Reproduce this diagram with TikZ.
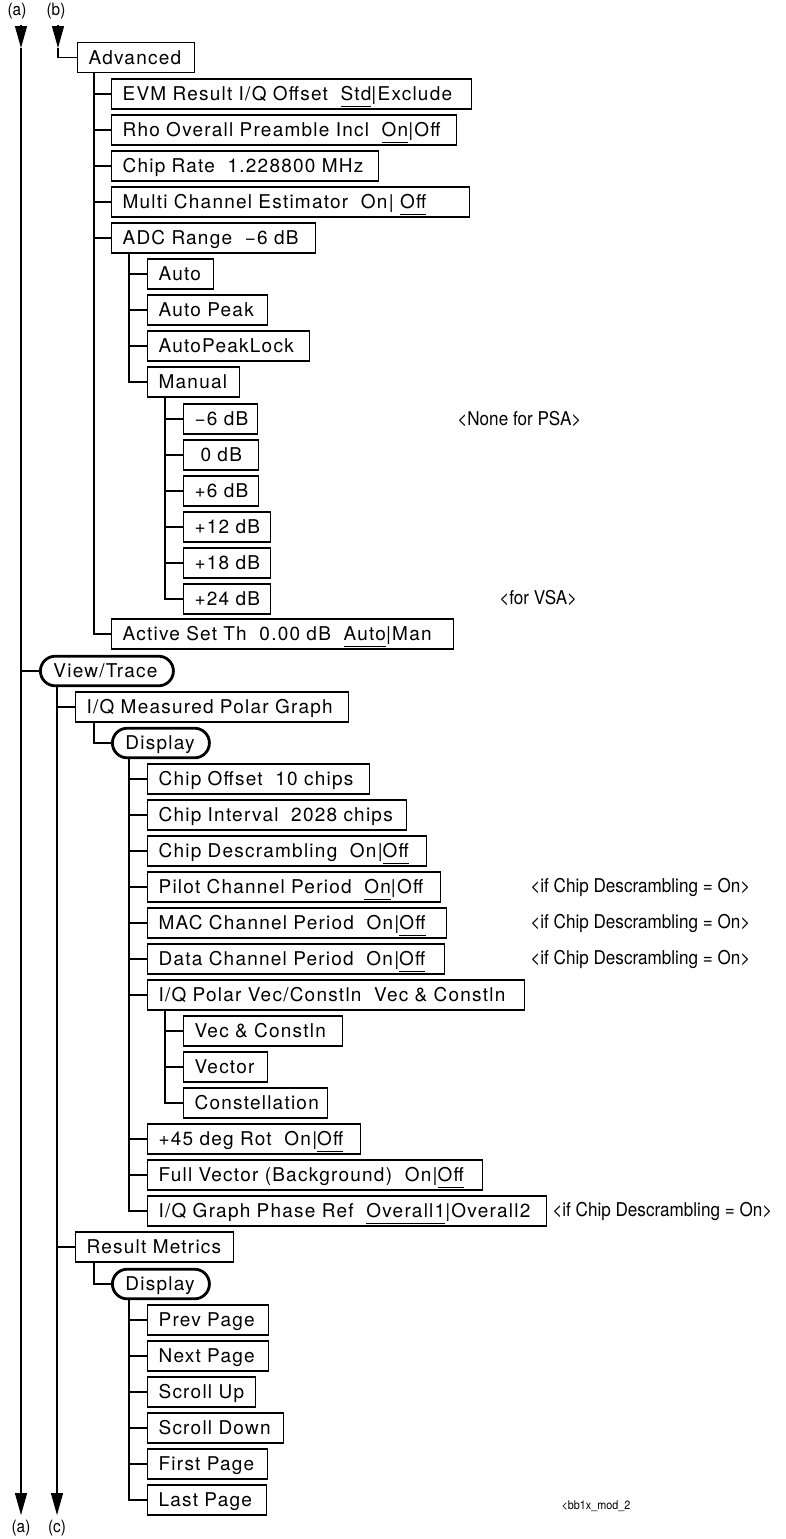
\documentclass[tikz,border=0pt]{standalone}
\usepackage{fontspec}
\setmainfont[LetterSpace=6.5]{TeX Gyre Heros}
\newfontfamily\notefont[FakeStretch=0.9]{TeX Gyre Heros}
\usetikzlibrary{arrows.meta}
\newsavebox\pickbox
\newcommand{\pick}[1]{\sbox\pickbox{#1}\rlap{\rule[-2.9pt]{\wd\pickbox}{0.5pt}}\usebox\pickbox}
\tikzset{
  menu diagram/.style={x=0.5pt, y=-0.5pt, font=\fontsize{9.5pt}{11pt}\selectfont},
  menu box/.style={draw, line width=0.6pt, anchor=west, inner xsep=5.5pt,
    inner ysep=0pt, minimum height=15pt, text height=6.8pt, text depth=0pt, align=left},
  menu key/.style={menu box, line width=1.4pt, rounded corners=7.4pt,
    inner xsep=6.5pt, minimum height=14.8pt},
  tree line/.style={draw, line width=0.6pt},
  flow line/.style={line width=0.6pt, -{Triangle[length=11pt,width=6pt]}},
  menu note/.style={font=\notefont\fontsize{9.5pt}{11pt}\selectfont, anchor=west, inner sep=0pt},
  flow label/.style={font=\notefont\fontsize{8.5pt}{10pt}\selectfont, inner sep=0pt},
  fig id/.style={font=\notefont\fontsize{6pt}{7pt}\selectfont, inner sep=0pt}
}
\begin{document}
\begin{tikzpicture}[menu diagram]
\useasboundingbox (0,0) rectangle (786,1539);
% continuation markers
\node[flow label] (a top) at (17,11) {(a)};
\node[flow label] (b top) at (56,11) {(b)};
\node[flow label] (a bot) at (21,1528) {(a)};
\node[flow label] (c bot) at (57,1528) {(c)};
\coordinate (a in) at (21,25);
\coordinate (a mid) at (21,48);
\coordinate (a out) at (21,1515);
\coordinate (b in) at (58,25);
\coordinate (b mid) at (58,48);
\coordinate (c out) at (57,1515);
\draw[flow line] (a in) -- (a mid);
\draw[flow line] (a mid) -- (a out);
\draw[flow line] (b in) -- (b mid);

% Advanced
\node[menu box, text width=47.5pt] (adv) at (77,57.5) {Advanced};
\draw[tree line] (b mid) |- (adv.west);
\coordinate (adv-t) at ([xshift=8.5pt]adv.south west);
\foreach \name/\y/\r/\txt in {evm/94/471/{EVM Result I/Q Offset~~\pick{Std}|Exclude},
  rho/130/456/{Rho Overall Preamble Incl~~\pick{On}|Off},
  rate/166/378/{Chip Rate~~1.228800 MHz},
  mce/202/469/{Multi Channel Estimator~~On| \pick{Off}},
  adc/238/315/{ADC Range~~−6 dB},
  actset/634/453/{Active Set Th~~0.00 dB~~\pick{Auto}|Man}}{
  \pgfmathsetmacro\tw{(\r-111)/2-11}
  \node[menu box, text width=\tw pt] (\name) at (111,\y) {\mbox{\txt}};
  \draw[tree line] (adv-t) |- (\name.west);
}
\coordinate (adc-t) at ([xshift=9pt]adc.south west);
\foreach \name/\y/\r/\txt in {auto/274/213/Auto, autopk/310/267/Auto Peak,
  autolock/346/309/AutoPeakLock, manual/382/239/Manual}{
  \pgfmathsetmacro\tw{(\r-147)/2-11}
  \node[menu box, text width=\tw pt] (\name) at (147,\y) {\mbox{\txt}};
  \draw[tree line] (adc-t) |- (\name.west);
}
\coordinate (manual-t) at ([xshift=9pt]manual.south west);
\foreach \name/\y/\r/\txt in {m6/419/257/{−6 dB}, z0/455/258/{\hspace*{3pt}0 dB},
  p6/491/258/{+6 dB}, p12/527/270/{+12 dB}, p18/563/270/{+18 dB}, p24/599/270/{+24 dB}}{
  \pgfmathsetmacro\tw{(\r-183)/2-11}
  \node[menu box, text width=\tw pt] (\name) at (183,\y) {\mbox{\txt}};
  \draw[tree line] (manual-t) |- (\name.west);
}
\node[menu note] (psa) at (457,419) {<None for PSA>};
\node[menu note] (vsa) at (499,598) {<for VSA>};

% View/Trace
\node[menu key, text width=53.5pt] (view) at (39,671) {View/Trace};
\draw[tree line] (view.west) -- (view.west -| a mid);
\draw[flow line] ([xshift=9pt]view.south west) -- (c out);
\node[menu box, text width=125.5pt] (iqmeas) at (75,707) {I/Q Measured Polar Graph};
\draw[tree line] (iqmeas.west) -- (iqmeas.west -| c out);
\coordinate (iqmeas-t) at ([xshift=9.5pt]iqmeas.south west);
\node[menu key, text width=35.5pt] (disp1) at (111,743) {Display};
\draw[tree line] (iqmeas-t) |- (disp1.west);
\coordinate (disp1-t) at ([xshift=9pt]disp1.south west);
\foreach \name/\y/\r/\txt in {choff/779/369/{Chip Offset~~10 chips},
  chint/815/406/{Chip Interval~~2028 chips},
  chdesc/851/426/{Chip Descrambling~~On|\pick{Off}},
  pilot/887/440/{Pilot Channel Period~~\pick{On}|Off},
  mac/923/446/{MAC Channel Period~~On|\pick{Off}},
  data/959/444/{Data Channel Period~~On|\pick{Off}},
  iqpol/995/524/{I/Q Polar Vec/Constln~~Vec \& Constln},
  rot/1139/360/{+45 deg Rot~~On|\pick{Off}},
  fullvec/1175/482/{Full Vector (Background)~~On|\pick{Off}},
  phref/1211/546/{I/Q Graph Phase Ref~~\pick{Overall1}|Overall2}}{
  \pgfmathsetmacro\tw{(\r-147)/2-11}
  \node[menu box, text width=\tw pt] (\name) at (147,\y) {\mbox{\txt}};
  \draw[tree line] (disp1-t) |- (\name.west);
}
\coordinate (iqpol-t) at ([xshift=9pt]iqpol.south west);
\foreach \name/\y/\r/\txt in {vc/1031/342/{Vec \& Constln}, vect/1067/267/Vector,
  const/1103/327/Constellation}{
  \pgfmathsetmacro\tw{(\r-183)/2-11}
  \node[menu box, text width=\tw pt] (\name) at (183,\y) {\mbox{\txt}};
  \draw[tree line] (iqpol-t) |- (\name.west);
}
\foreach \y in {887,923,959}{
  \node[menu note] (cond\y) at (530,\y) {<if Chip Descrambling = On>};
}
\node[menu note] (cond1211) at (552,1211) {<if Chip Descrambling = On>};

% Result Metrics
\node[menu box, text width=68pt] (metrics) at (75,1247) {Result Metrics};
\draw[tree line] (metrics.west) -- (metrics.west -| c out);
\coordinate (metrics-t) at ([xshift=9.5pt]metrics.south west);
\node[menu key, text width=35.5pt] (disp2) at (111,1284) {Display};
\draw[tree line] (metrics-t) |- (disp2.west);
\coordinate (disp2-t) at ([xshift=9pt]disp2.south west);
\foreach \name/\y/\r/\txt in {prev/1320/268/Prev Page, next/1356/268/Next Page,
  scup/1392/255/Scroll Up, scdown/1428/283/Scroll Down,
  first/1464/267/First Page, last/1500/266/Last Page}{
  \pgfmathsetmacro\tw{(\r-147)/2-11}
  \node[menu box, text width=\tw pt] (\name) at (147,\y) {\mbox{\txt}};
  \draw[tree line] (disp2-t) |- (\name.west);
}
\node[fig id] (figid) at (596,1506) {<bb1x\_mod\_2};
\end{tikzpicture}
\end{document}
